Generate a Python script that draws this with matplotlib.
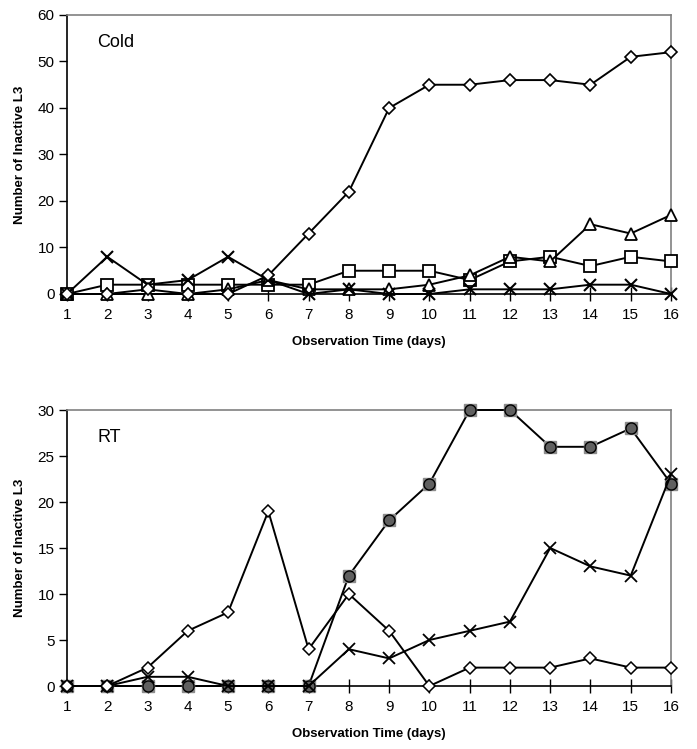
import numpy as np
import matplotlib.pyplot as plt

plt.rcParams['font.family'] = ['Liberation Sans', 'DejaVu Sans']

days = np.arange(1, 17)

# Cold storage
cold_diamond = [0, 0, 1, 0, 0, 4, 13, 22, 40, 45, 45, 46, 46, 45, 51, 52]
cold_square = [0, 2, 2, 2, 2, 2, 2, 5, 5, 5, 3, 7, 8, 6, 8, 7]
cold_triangle = [0, 0, 0, 0, 1, 3, 1, 1, 1, 2, 4, 8, 7, 15, 13, 17]
cold_cross = [0, 8, 2, 3, 8, 3, 0, 1, 0, 0, 1, 1, 1, 2, 2, 0]

# Room temperature
rt_diamond = [0, 0, 2, 6, 8, 19, 4, 10, 6, 0, 2, 2, 2, 3, 2, 2]
rt_cross = [0, 0, 1, 1, 0, 0, 0, 4, 3, 5, 6, 7, 15, 13, 12, 23]
rt_circle = [0, 0, 0, 0, 0, 0, 0, 12, 18, 22, 30, 30, 26, 26, 28, 22]

fig = plt.figure(figsize=(6.97, 7.49), dpi=100)
ax1 = fig.add_axes([0.0961, 0.6075, 0.8666, 0.3725])
ax2 = fig.add_axes([0.0961, 0.0841, 0.8666, 0.3685])

lw = 1.4
ax1.plot(days, cold_square, color='black', lw=lw, marker='s', ms=8, mfc='white', mec='black', mew=1.3, clip_on=False, zorder=3)
ax1.plot(days, cold_triangle, color='black', lw=lw, marker='^', ms=8, mfc='white', mec='black', mew=1.3, clip_on=False, zorder=3)
ax1.plot(days, cold_cross, color='black', lw=lw, marker='x', ms=9, mec='black', mew=1.5, clip_on=False, zorder=4)
ax1.plot(days, cold_diamond, color='black', lw=lw, marker='D', ms=6, mfc='white', mec='black', mew=1.2, clip_on=False, zorder=5)

ax2.plot(days, rt_circle, color='black', lw=lw, marker='s', ms=8, mfc='#8c8c8c', mec='#8c8c8c', clip_on=False, zorder=3)
ax2.plot(days, rt_circle, color='black', lw=0, marker='o', ms=8, mfc='#606060', mec='black', mew=1.0, clip_on=False, zorder=3)
ax2.plot(days, rt_cross, color='black', lw=lw, marker='x', ms=9, mec='black', mew=1.3, clip_on=False, zorder=4)
ax2.plot(days, rt_diamond, color='black', lw=lw, marker='D', ms=6, mfc='white', mec='black', mew=1.1, clip_on=False, zorder=5)

for ax, ymax, step, label in [(ax1, 60, 10, 'Cold'), (ax2, 30, 5, 'RT')]:
    ax.set_xlim(1, 16)
    ax.set_ylim(0, ymax)
    ax.set_xticks(days)
    ax.set_yticks(np.arange(0, ymax + 1, step))
    ax.tick_params(axis='x', direction='inout', length=10, width=1, labelsize=11, colors='black', pad=5)
    ax.tick_params(axis='y', direction='out', length=6, width=1, labelsize=11, colors='black', pad=3)
    for side in ['top', 'right']:
        ax.spines[side].set_color('#808080')
        ax.spines[side].set_linewidth(1.2)
    for side in ['left', 'bottom']:
        ax.spines[side].set_color('black')
        ax.spines[side].set_linewidth(1.2)
    ax.set_xlabel('Observation Time (days)', fontsize=9.5, fontweight='bold', labelpad=10)
    ax.set_ylabel('Number of Inactive L3', fontsize=9.5, fontweight='bold', labelpad=8)
    ax.text(0.05, 0.9, label, transform=ax.transAxes, fontsize=13, va='center')

fig.savefig('out.png', dpi=100)
